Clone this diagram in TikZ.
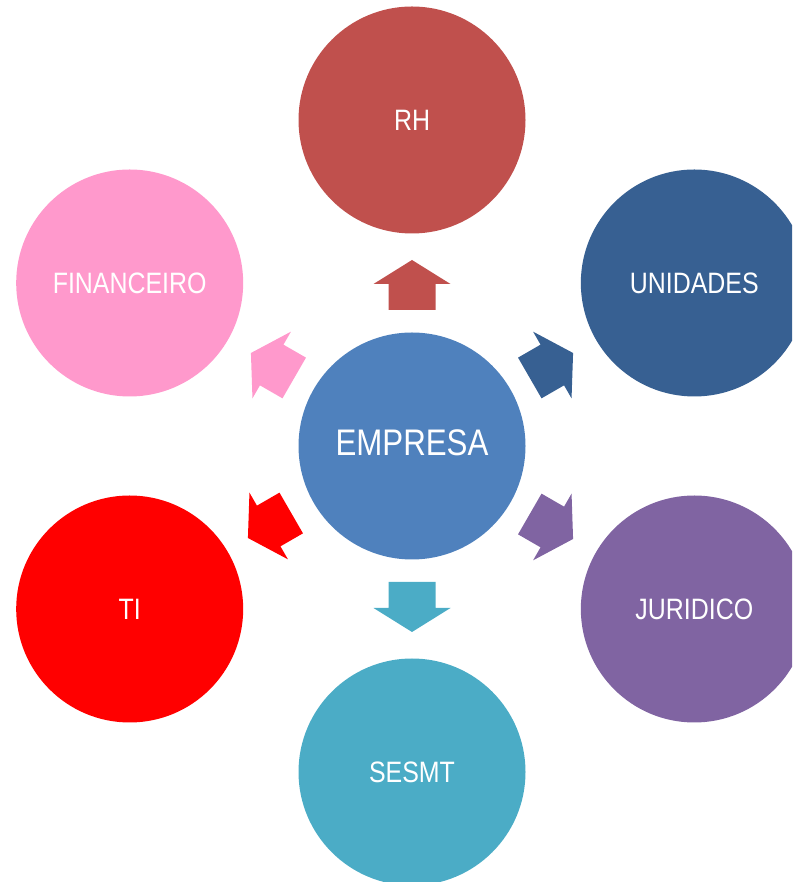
\documentclass[tikz,border=0pt]{standalone}
\usepackage{fontspec}
\setmainfont[FakeStretch=0.845]{Liberation Sans}
\usetikzlibrary{calc}
\definecolor{cRH}{HTML}{C0504D}
\definecolor{cUNI}{HTML}{376092}
\definecolor{cEMP}{HTML}{4F81BD}
\definecolor{cFIN}{HTML}{FF99CC}
\definecolor{cTI}{HTML}{FF0000}
\definecolor{cJUR}{HTML}{8064A2}
\definecolor{cSES}{HTML}{4BACC6}
\tikzset{
  circ/.style={circle, minimum size=227pt, inner sep=0pt, text=white},
  outerlabel/.style={font=\fontsize{29.5}{34}\selectfont},
  centerlabel/.style={font=\fontsize{37}{42}\selectfont},
  blockarrow/.pic={
    \fill (136,-23.5) -- (162,-23.5) -- (162,-38.5) -- (186,0) -- (162,38.5) -- (162,23.5) -- (136,23.5) -- cycle;
  }
}
\begin{document}
\begin{tikzpicture}[x=1pt,y=1pt]
\useasboundingbox (0,0) rectangle (792,882);
\clip (0,0) rectangle (792,882);
\node[circ, fill=cEMP] (E) at (412,436) {};
\node[centerlabel, text=white] (Et) at ($(E.center)+(0,3)$) {EMPRESA};
\node[circ, fill=cRH, outerlabel] (RH) at ($(E.center)+(90:326pt)$) {RH};
\node[circ, fill=cUNI, outerlabel] (UNI) at ($(E.center)+(30:326pt)$) {UNIDADES};
\node[circ, fill=cJUR, outerlabel] (JUR) at ($(E.center)+(-30:326pt)$) {JURIDICO};
\node[circ, fill=cSES, outerlabel] (SES) at ($(E.center)+(-90:326pt)$) {SESMT};
\node[circ, fill=cTI, outerlabel] (TI) at ($(E.center)+(210:326pt)$) {TI};
\node[circ, fill=cFIN, outerlabel] (FIN) at ($(E.center)+(150:326pt)$) {FINANCEIRO};
\pic[cRH, shift={(E.center)}, rotate=90] {blockarrow};
\pic[cUNI, shift={(E.center)}, rotate=30] {blockarrow};
\pic[cJUR, shift={(E.center)}, rotate=-30] {blockarrow};
\pic[cSES, shift={(E.center)}, rotate=-90] {blockarrow};
\pic[cTI, shift={($(E.center)+(-3,1)$)}, rotate=210] {blockarrow};
\pic[cFIN, shift={(E.center)}, rotate=150] {blockarrow};
\end{tikzpicture}
\end{document}
